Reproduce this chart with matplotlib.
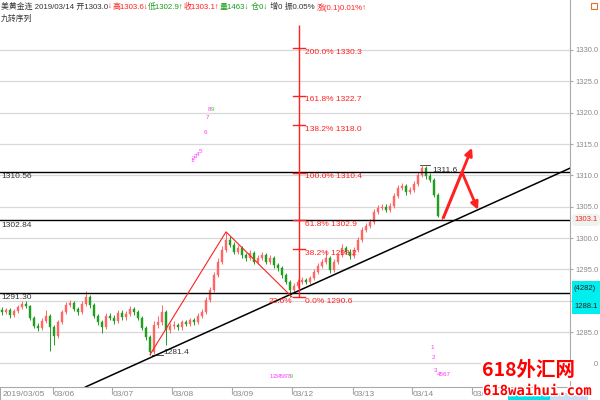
import matplotlib
matplotlib.use('Agg')
import matplotlib.pyplot as plt
import matplotlib.transforms as mtransforms
import matplotlib.patheffects as pe
from matplotlib.patches import Rectangle, FancyBboxPatch

CJK = ['Noto Sans CJK SC', 'DejaVu Sans']
HDR = ['Liberation Sans', 'Noto Sans CJK SC', 'DejaVu Sans']
plt.rcParams['font.family'] = ['Liberation Sans', 'Noto Sans CJK SC', 'DejaVu Sans']

# ---- candle data (one bar every index) ----
opens = [
    1288.6, 1288.2, 1288.5, 1287.7, 1288.4, 1289.0, 1289.5, 1289.2, 1287.3, 1286.0,
    1285.7, 1286.8, 1287.6, 1285.8, 1284.4, 1286.6, 1288.2, 1289.3, 1289.6, 1288.7,
    1288.2, 1289.5, 1290.6, 1289.3, 1287.6, 1286.6, 1285.8, 1287.6, 1287.3, 1286.8,
    1288.1, 1287.4, 1287.9, 1288.7, 1288.2, 1287.3, 1285.7, 1284.2, 1281.8, 1286.1,
    1286.6, 1288.2, 1285.3, 1286.0, 1286.1, 1285.8, 1286.6, 1286.3, 1286.9, 1286.6,
    1287.6, 1288.2, 1290.1, 1291.7, 1294.1, 1296.2, 1298.1, 1299.7, 1298.9, 1297.8,
    1298.4, 1297.3, 1296.8, 1297.6, 1296.2, 1296.8, 1297.3, 1296.2, 1296.8, 1295.7,
    1295.2, 1294.1, 1293.0, 1291.7, 1292.4, 1293.0, 1293.3, 1293.0, 1293.6, 1294.6,
    1295.6, 1296.2, 1296.8, 1294.9, 1296.2, 1297.3, 1298.4, 1297.8, 1297.1, 1298.1,
    1299.7, 1301.3, 1301.9, 1302.6, 1304.2, 1304.8, 1305.0, 1304.5, 1305.1, 1306.7,
    1308.0, 1308.3, 1307.4, 1307.7, 1308.6, 1310.1, 1311.2, 1309.9, 1309.3, 1306.9,
    1303.0]
closes = [
    1288.2, 1288.5, 1287.7, 1288.4, 1289.0, 1289.5, 1289.2, 1287.3, 1286.0, 1285.7,
    1286.8, 1287.6, 1285.8, 1284.4, 1286.6, 1288.2, 1289.3, 1289.6, 1288.7, 1288.2,
    1289.5, 1290.6, 1289.3, 1287.6, 1286.6, 1285.8, 1287.6, 1287.3, 1286.8, 1288.1,
    1287.4, 1287.9, 1288.7, 1288.2, 1287.3, 1285.7, 1284.2, 1281.8, 1286.1, 1286.6,
    1288.2, 1285.3, 1286.0, 1286.1, 1285.8, 1286.6, 1286.3, 1286.9, 1286.6, 1287.6,
    1288.2, 1290.1, 1291.7, 1294.1, 1296.2, 1298.1, 1299.7, 1298.9, 1297.8, 1298.4,
    1297.3, 1296.8, 1297.6, 1296.2, 1296.8, 1297.3, 1296.2, 1296.8, 1295.7, 1295.2,
    1294.1, 1293.0, 1291.7, 1292.4, 1293.0, 1293.3, 1293.0, 1293.6, 1294.6, 1295.6,
    1296.2, 1296.8, 1294.9, 1296.2, 1297.3, 1298.4, 1297.8, 1297.1, 1298.1, 1299.7,
    1301.3, 1301.9, 1302.6, 1304.2, 1304.8, 1305.0, 1304.5, 1305.1, 1306.7, 1308.0,
    1308.3, 1307.4, 1307.7, 1308.6, 1310.1, 1311.2, 1309.9, 1309.3, 1306.9, 1303.6,
    1303.1]
highs = [
    1289.0, 1288.9, 1288.8, 1288.7, 1289.4, 1290.0, 1289.9, 1289.4, 1287.6, 1286.4,
    1287.2, 1288.6, 1287.9, 1286.2, 1287.0, 1288.6, 1289.8, 1290.2, 1289.9, 1289.0,
    1290.0, 1291.6, 1291.0, 1289.6, 1287.9, 1286.9, 1288.0, 1288.0, 1287.7, 1288.6,
    1288.5, 1288.3, 1289.1, 1289.0, 1288.5, 1287.6, 1286.0, 1284.5, 1286.8, 1287.5,
    1289.3, 1288.5, 1286.5, 1286.7, 1286.5, 1287.0, 1287.0, 1287.3, 1287.3, 1288.0,
    1288.7, 1290.6, 1292.2, 1294.6, 1296.8, 1298.7, 1301.0, 1300.3, 1299.3, 1298.9,
    1298.8, 1297.7, 1298.1, 1297.9, 1297.3, 1297.8, 1297.6, 1297.3, 1297.1, 1296.1,
    1295.5, 1294.4, 1293.3, 1292.9, 1293.5, 1293.8, 1293.7, 1294.0, 1295.0, 1296.1,
    1296.7, 1298.0, 1297.1, 1296.6, 1297.7, 1299.1, 1298.8, 1298.2, 1298.5, 1300.2,
    1301.8, 1302.4, 1303.0, 1304.7, 1305.3, 1305.5, 1305.4, 1305.6, 1307.2, 1308.5,
    1308.8, 1308.7, 1308.2, 1309.1, 1310.6, 1311.6, 1311.5, 1310.3, 1309.6, 1307.2,
    1303.6]
lows = [
    1287.8, 1287.9, 1287.3, 1287.4, 1288.1, 1288.7, 1288.8, 1287.0, 1285.6, 1285.2,
    1285.4, 1286.5, 1282.0, 1283.0, 1284.1, 1286.3, 1287.9, 1289.0, 1288.3, 1287.7,
    1287.9, 1289.2, 1288.9, 1287.2, 1286.2, 1284.8, 1285.5, 1286.9, 1286.3, 1286.5,
    1287.0, 1287.0, 1287.6, 1287.8, 1286.9, 1285.3, 1283.8, 1281.4, 1281.5, 1285.6,
    1286.2, 1283.0, 1284.9, 1285.5, 1285.3, 1285.4, 1285.9, 1285.9, 1286.2, 1286.3,
    1287.3, 1287.9, 1289.8, 1291.4, 1293.8, 1295.9, 1297.8, 1298.5, 1297.4, 1297.5,
    1296.9, 1296.3, 1296.5, 1295.8, 1295.9, 1296.5, 1295.8, 1295.9, 1295.3, 1294.8,
    1293.7, 1292.6, 1290.6, 1291.3, 1292.1, 1292.6, 1292.6, 1292.7, 1293.3, 1294.3,
    1295.3, 1295.9, 1294.5, 1294.6, 1295.9, 1297.0, 1297.4, 1296.7, 1296.8, 1297.8,
    1299.4, 1301.0, 1301.6, 1302.3, 1303.9, 1304.4, 1304.1, 1304.2, 1304.8, 1306.4,
    1307.6, 1306.9, 1307.0, 1307.4, 1308.3, 1309.8, 1309.5, 1308.9, 1306.5, 1303.3,
    1302.9]

date_ticks = [12.75, 27.5, 42.5, 57.5, 72.5, 87.75, 102.5, 117.5]
date_labels = ['03/06', '03/07', '03/08', '03/09', '03/12', '03/13', '03/14', '03/15']

levels = [1310.56, 1302.84, 1291.30]          # black horizontal lines
trend_i = [37, 110.25]
trend_p = [1280.9, 1302.0]
zz_i = [37, 56, 72.5]
zz_p = [1281.4, 1301.0, 1290.6]
fib_i = 74.25
fib_low, fib_high = 1290.62, 1310.44
fib_ratios = [0.0, 0.382, 0.618, 1.0, 1.382, 1.618, 2.0]
arrow_i = [110.25, 115, 117.5, 119]
arrow_p = [1303.1, 1310.5, 1314.4, 1304.5]

td_marks = [('1', 47, 1312.3), ('2', 47.5, 1312.7), ('3', 48, 1313.0), ('4', 48.5, 1313.3),
            ('5', 49.2, 1313.8), ('6', 50.3, 1316.8), ('7', 51.0, 1319.3), ('8', 51.5, 1320.5),
            ('1', 107, 1282.5), ('2', 107.5, 1281.0), ('3', 108, 1278.9), ('4567', 108.8, 1278.3)]
td_row = '12345678'

UP = '#ff6666'
DN = '#1f9e1f'
RED = '#ff2020'
GREY = '#8a8a8a'

fig = plt.figure(figsize=(6, 4), dpi=100)
ax = fig.add_axes([0, 13 / 400, 570 / 600, 387 / 400])
ax.set_xlim(-0.5, 142)
ax.set_ylim(1276.25, 1337.97)

ax.set_yticks(range(1280, 1335, 5))
ax.yaxis.tick_right()
ax.yaxis.set_major_formatter(matplotlib.ticker.FormatStrFormatter('%.1f'))
ax.tick_params(axis='y', labelsize=5.5, labelcolor=GREY, color='#aaaaaa', length=2.5, pad=1.5)
ax.set_xticks([])
ax.grid(axis='y', color='#d8d8d8', lw=0.9)
for s in ['top', 'left', 'bottom']:
    ax.spines[s].set_visible(False)
ax.spines['right'].set_color('#aaaaaa')

# candles
idx = list(range(len(opens)))
cols = [UP if c >= o else DN for o, c in zip(opens, closes)]
ax.vlines(idx, lows, highs, colors=cols, lw=0.7, zorder=3)
bottoms = [min(o, c) for o, c in zip(opens, closes)]
heights = [max(abs(c - o), 0.08) for o, c in zip(opens, closes)]
ax.bar(idx, heights, bottom=bottoms, width=0.6, color=cols, edgecolor=cols, lw=0.3, zorder=3)

# horizontal support / resistance lines
for lv in levels:
    ax.axhline(lv, color='black', lw=1.0, zorder=4)
    ax.annotate('%.2f' % lv, (0, lv), xycoords=('axes fraction', 'data'), xytext=(1, -1),
                textcoords='offset points', ha='left', va='top', fontsize=6, color='#333333')

# trend line
ax.axline((trend_i[0], trend_p[0]), (trend_i[1], trend_p[1]), color='black', lw=1.1, zorder=4)

# zigzag
ax.plot(zz_i, zz_p, color=RED, lw=0.8, zorder=5)
ax.plot([40.2, 37.5], [zz_p[0], zz_p[0]], color='#333333', lw=0.6)
ax.text(40.3, zz_p[0] + 0.4, '%.1f' % zz_p[0], fontsize=6, color='#333333', va='center')
ax.plot([104.5, 107], [highs[105], highs[105]], color='#333333', lw=0.6)
ax.text(107.5, highs[105] - 0.2, '%.1f' % highs[105], fontsize=6, color='#333333', va='top')

# fibonacci projection
ax.vlines(fib_i, fib_low, 1334.0, color=RED, lw=1.0, zorder=5)
for r in fib_ratios:
    p = fib_low + r * (fib_high - fib_low)
    ax.plot([fib_i - 1.5, fib_i + 1.5], [p, p], color=RED, lw=1.0, zorder=5)
    ax.text(fib_i + 1.5, p - 0.1, '%.1f%% %.1f' % (r * 100, p), fontsize=6, color=RED,
            va='top', ha='left', zorder=6)
ax.text(fib_i - 1.8, fib_low - 0.1, '23.6%', fontsize=6, color=RED, va='top', ha='right', zorder=6)

# forecast arrows
ax.plot(arrow_i[:2], arrow_p[:2], color=RED, lw=2.2, solid_capstyle='butt', zorder=6)
for k in (2, 3):
    ax.annotate('', xy=(arrow_i[k], arrow_p[k]), xytext=(arrow_i[1], arrow_p[1]),
                arrowprops=dict(arrowstyle='-|>', color=RED, lw=2.0, mutation_scale=11,
                                shrinkA=0, shrinkB=0), zorder=6)

# TD sequential counts
for t, xi, p in td_marks:
    ax.text(xi, p, t, fontsize=4.5, color='#ff33ff', ha='left', va='center')
ax.text(52.3, 1320.5, '9', fontsize=4.5, color='#33cc33', ha='left', va='center')
for k, ch in enumerate(td_row):
    ax.text(67 + 0.62 * k, 1278.0, ch, fontsize=3.8, color='#ff33ff', ha='left', va='center')
ax.text(67 + 0.62 * len(td_row), 1278.0, '9', fontsize=3.8, color='#33cc33', ha='left', va='center')

# bottom date strip
bax = fig.add_axes([0, 0, 570 / 600, 13 / 400])
bax.set_xlim(-0.5, 142)
bax.set_ylim(0, 1)
bax.set_xticks([])
bax.set_yticks([])
for s in bax.spines.values():
    s.set_color('#aaaaaa')
bax.vlines(date_ticks, 0.45, 1, color='#aaaaaa', lw=0.8)
bax.text(0.2, 0.45, '2019/03/05', fontsize=6, color=GREY, va='center', ha='left')
for d, lab in zip(date_ticks, date_labels):
    bax.text(d + 0.25, 0.45, lab, fontsize=6, color=GREY, va='center', ha='left')

# right side boxes
px = mtransforms.IdentityTransform()
fig.patches.append(FancyBboxPatch((572, 400 - 226), 28, 12, boxstyle='round,pad=0,rounding_size=4',
                                  fc='#edf3ed', ec='none', transform=px, figure=fig))
fig.text(574, 400 - 219.5, '1303.1', fontsize=5.5, color=RED, va='center', transform=px)
fig.patches.append(Rectangle((572, 400 - 314), 28, 33, fc='#00eeee', ec='none', transform=px, figure=fig))
fig.text(574, 400 - 288, '(4282)', fontsize=5.5, color='#222222', va='center', transform=px)
fig.text(574, 400 - 306, '1288.1', fontsize=5.5, color='#222222', va='center', transform=px)
fig.patches.append(Rectangle((591, 400 - 9), 6, 6, fc='white', ec='#e07030', lw=0.8, transform=px, figure=fig))
fig.patches.append(Rectangle((508, 0), 42, 7, fc='#00e0e8', ec='none', transform=px, figure=fig))
fig.patches.append(Rectangle((550, 0), 38, 7, fc='#c8def0', ec='none', transform=px, figure=fig))
fig.patches.append(Rectangle((571, 400 - 374), 22, 16, fc='white', ec='none', transform=px, figure=fig))

# header with coloured segments
renderer = fig.canvas.get_renderer()


def segments(x, y, parts, size=5.7):
    for s, c in parts:
        t = fig.text(x, y, s, color=c, fontsize=size, family=HDR, va='center', ha='left', transform=px)
        x = t.get_window_extent(renderer).x1
    return x


DK = '#333333'
GN = '#1a9a1a'
segments(1, 400 - 7, [('美黄金连 2019/03/14 开1303.0', DK), ('↓', RED), ('高1303.6↓', RED),
                      ('低1302.9↑', GN), ('收1303.1↑', RED), ('量1463↓', GN), (' 仓0↓', GN),
                      (' 增0 振0.05% ', DK), ('涨(0.1)0.01%↑', RED)])
segments(1, 400 - 19, [('九转序列', DK)])

# watermark
fig.text(482, 400 - 371, '618外汇网', fontsize=14, weight='bold', color='#ff0000', family=CJK,
         va='center', ha='left', transform=px, zorder=20,
         bbox=dict(fc='white', ec='none', pad=0.5))
fig.text(483, 400 - 391, '618waihui.com', fontsize=10, weight='bold', color='#ff0000',
         family=['DejaVu Sans Mono'], va='center', ha='left', transform=px, zorder=20,
         path_effects=[pe.withStroke(linewidth=2, foreground='white')])

fig.savefig('out.png', dpi=100)
